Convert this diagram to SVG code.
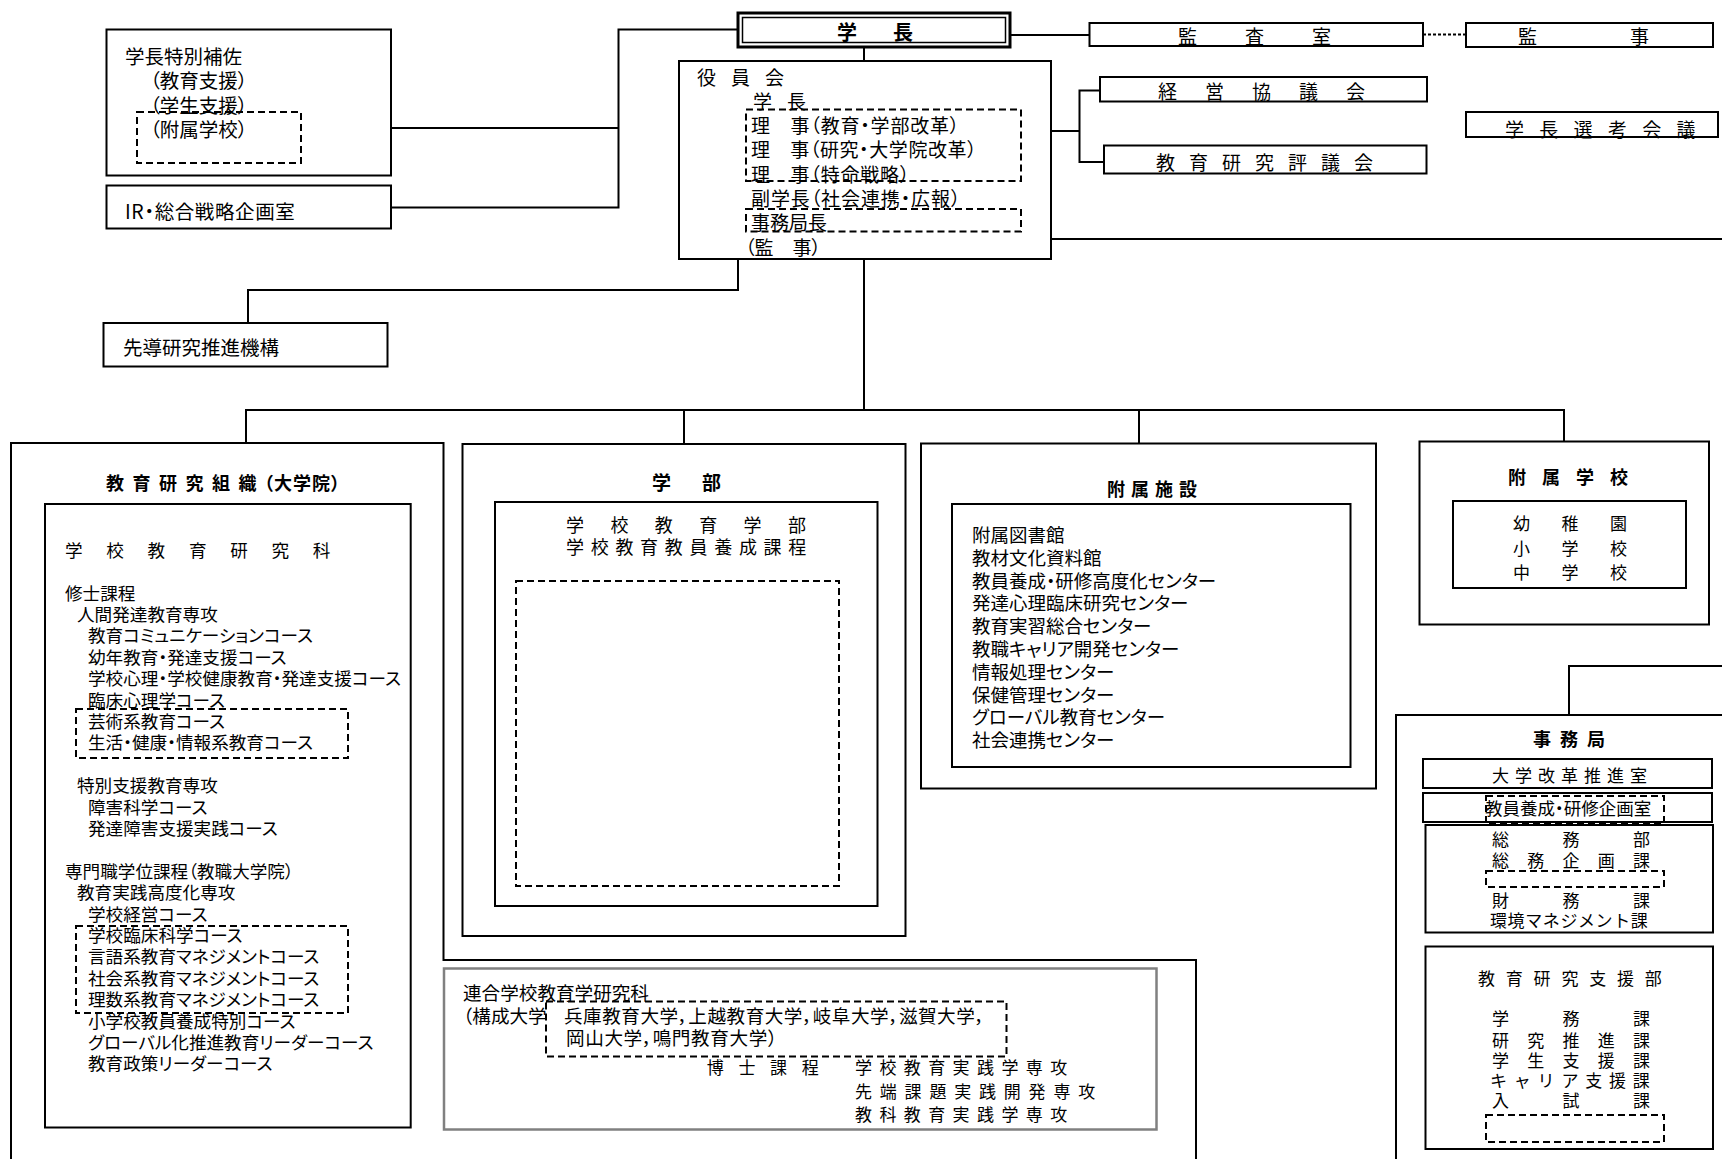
<svg xmlns="http://www.w3.org/2000/svg" width="1722" height="1159" viewBox="0 0 1722 1159">
<style>
.box{fill:none;stroke:#000;stroke-width:2}
.dash{fill:none;stroke:#000;stroke-width:2;stroke-dasharray:7 4}
.conn{fill:none;stroke:#000;stroke-width:2}
.dot{fill:none;stroke:#000;stroke-width:2;stroke-dasharray:3 2}
.gray{fill:none;stroke:#808080;stroke-width:2.5}
text{font-family:"Noto Sans CJK JP","Noto Sans CJK SC",sans-serif;fill:#000;dominant-baseline:central}
.p{font-feature-settings:"palt" 1}
.b{font-weight:bold}
.f195{font-size:19.5px}
.f19{font-size:19px}
.f18{font-size:18px}
.f176{font-size:17.6px}
.f185{font-size:18.5px}
.f17{font-size:17px}
</style>
<rect width="1722" height="1159" fill="#fff"/>

<g id="connectors">
<path class="conn" d="M738 29.5H618.5V207.5H391M391 128H618.5"/>
<path class="conn" d="M1010 35H1089.5"/>
<path class="dot" d="M1423 34.5H1466"/>
<path class="conn" d="M864 47V61"/>
<path class="conn" d="M1051 131H1079.5M1100 90.5H1079.5V162H1104"/>
<path class="conn" d="M1051 239H1722M1722 666H1569V715"/>
<path class="conn" d="M738 259V290H248V323"/>
<path class="conn" d="M864 259V410M246 443V410H1564V441.5M684 410V444M1139 410V443.5"/>
</g>

<g id="president-special-assistant">
<rect class="box" x="106.5" y="29.5" width="284.5" height="146"/>
<rect class="dash" x="137" y="112" width="164" height="51"/>
<text class="f195 p" x="125" y="55">学長特別補佐</text>
<text class="f195 p" x="150" y="79.5">（教育支援）</text>
<text class="f195 p" x="150" y="104">（学生支援）</text>
<text class="f195 p" x="150" y="128.5">（附属学校）</text>
</g>

<g id="ir-office">
<rect class="box" x="106.5" y="185.5" width="284.5" height="43"/>
<text class="f195 p" x="125" y="210" letter-spacing="0.6">IR・総合戦略企画室</text>
</g>

<g id="advanced-research">
<rect class="box" x="103.5" y="323" width="284" height="43.5"/>
<text class="f195 p" x="123" y="346">先導研究推進機構</text>
</g>

<g id="president">
<rect x="738" y="13" width="272" height="34" fill="none" stroke="#000" stroke-width="3"/>
<rect x="742.5" y="17.5" width="263" height="25" fill="none" stroke="#000" stroke-width="1.5"/>
<text class="b" x="837 893" y="31" font-size="20">学長</text>
</g>

<g id="board">
<rect class="box" x="679" y="61" width="372" height="198"/>
<rect class="dash" x="746" y="109.5" width="275" height="71.5"/>
<rect class="dash" x="746" y="209" width="275" height="22.5"/>
<text class="f19 p" x="697 731 765" y="76">役員会</text>
<text class="f19 p" x="753 787" y="100.3">学長</text>
<text class="f19 p" x="751" y="124.6" letter-spacing="0.8">理　事（教育・学部改革）</text>
<text class="f19 p" x="751" y="148.9" letter-spacing="0.6">理　事（研究・大学院改革）</text>
<text class="f19 p" x="751" y="173.2" letter-spacing="0.8">理　事（特命戦略）</text>
<text class="f19 p" x="751" y="197.5" letter-spacing="0.9">副学長（社会連携・広報）</text>
<text class="f19 p" x="751" y="221.8">事務局長</text>
<text class="f19 p" x="745" y="246">（監　事）</text>
</g>

<g id="audit-office">
<rect class="box" x="1089.5" y="23" width="333.5" height="23"/>
<text class="f19" x="1178 1245 1312" y="35">監査室</text>
</g>

<g id="auditor">
<rect class="box" x="1466" y="23" width="247" height="24"/>
<text class="f19" x="1518 1630" y="35">監事</text>
</g>

<g id="management-council">
<rect class="box" x="1100" y="77" width="327" height="24.5"/>
<text class="f19" x="1158 1205 1252 1299 1346" y="90.5">経営協議会</text>
</g>

<g id="education-research-council">
<rect class="box" x="1104" y="145.5" width="322.5" height="28"/>
<text class="f19" x="1156 1189 1222 1255 1288 1321 1354" y="161">教育研究評議会</text>
</g>

<g id="president-selection-council">
<rect class="box" x="1466" y="112" width="252" height="25"/>
<text class="f19" x="1505 1539.3 1573.6 1607.9 1642.2 1676.5" y="128">学長選考会議</text>
</g>

<g id="graduate-school">
<path class="box" d="M11 1159V443H443.5V960H1196V1159"/>
<rect class="box" x="45" y="504" width="365.7" height="623.5"/>
<text class="b f18 p" y="482"><tspan x="106 132.5 159 185.5 212 238.5">教育研究組織</tspan><tspan x="264" letter-spacing="1">（大学院）</tspan></text>
<text class="f176" x="65 106.3 147.6 188.9 230.2 271.5 312.8" y="549">学校教育研究科</text>
<rect class="dash" x="76" y="709" width="272" height="49"/>
<rect class="dash" x="76" y="926" width="272" height="87"/>
<g class="f176 p">
<text x="65" y="592">修士課程</text>
<text x="77" y="613.4">人間発達教育専攻</text>
<text x="88" y="634.8">教育コミュニケーションコース</text>
<text x="88" y="656.2">幼年教育・発達支援コース</text>
<text x="88" y="677.6">学校心理・学校健康教育・発達支援コース</text>
<text x="88" y="699">臨床心理学コース</text>
<text x="88" y="720.4">芸術系教育コース</text>
<text x="88" y="741.8">生活・健康・情報系教育コース</text>
<text x="77" y="784.6">特別支援教育専攻</text>
<text x="88" y="806">障害科学コース</text>
<text x="88" y="827.4">発達障害支援実践コース</text>
<text x="65" y="870.2">専門職学位課程（教職大学院）</text>
<text x="77" y="891.6">教育実践高度化専攻</text>
<text x="88" y="913">学校経営コース</text>
<text x="88" y="934.4">学校臨床科学コース</text>
<text x="88" y="955.8">言語系教育マネジメントコース</text>
<text x="88" y="977.2">社会系教育マネジメントコース</text>
<text x="88" y="998.6">理数系教育マネジメントコース</text>
<text x="88" y="1020">小学校教員養成特別コース</text>
<text x="88" y="1041.4">グローバル化推進教育リーダーコース</text>
<text x="88" y="1062.8">教育政策リーダーコース</text>
</g>
</g>

<g id="joint-graduate-school">
<rect class="gray" x="444" y="968.5" width="712.5" height="161"/>
<rect class="dash" x="546" y="1001.5" width="460.5" height="55"/>
<text class="p" font-size="18.6" x="463" y="991">連合学校教育学研究科</text>
<text class="p" font-size="18.6" y="1014"><tspan x="463">（構成大学</tspan><tspan x="564" letter-spacing="0.5">兵庫教育大学，上越教育大学，岐阜大学，滋賀大学，</tspan></text>
<text class="p" font-size="18.6" x="566" y="1036" letter-spacing="0.6">岡山大学，鳴門教育大学）</text>
<text class="f17" x="706.7 738.4 770.1 801.8" y="1066.5">博士課程</text>
<text class="f17" x="855" y="1066.5" letter-spacing="7.4">学校教育実践学専攻</text>
<text class="f17" x="855" y="1090" letter-spacing="7.8">先端課題実践開発専攻</text>
<text class="f17" x="855" y="1113" letter-spacing="7.4">教科教育実践学専攻</text>
</g>

<g id="faculty">
<rect class="box" x="462.5" y="444" width="443" height="492"/>
<rect class="box" x="495" y="502" width="382.5" height="404"/>
<rect class="dash" x="516" y="581" width="323" height="305"/>
<text class="b" font-size="19" x="652 702" y="481.5">学部</text>
<text class="f18" x="566 610.4 654.8 699.2 743.6 788" y="524">学校教育学部</text>
<text class="f18" x="566" y="546" letter-spacing="6.7">学校教育教員養成課程</text>
</g>

<g id="attached-facilities">
<rect class="box" x="921" y="443.5" width="455" height="345"/>
<rect class="box" x="952" y="504" width="398.5" height="263"/>
<text class="b f18" x="1107 1131 1155 1179" y="487.5">附属施設</text>
<g class="f185 p">
<text x="972" y="534">附属図書館</text>
<text x="972" y="556.8">教材文化資料館</text>
<text x="972" y="579.6">教員養成・研修高度化センター</text>
<text x="972" y="602.4">発達心理臨床研究センター</text>
<text x="972" y="625.2">教育実習総合センター</text>
<text x="972" y="648">教職キャリア開発センター</text>
<text x="972" y="670.8">情報処理センター</text>
<text x="972" y="693.6">保健管理センター</text>
<text x="972" y="716.4">グローバル教育センター</text>
<text x="972" y="739.2">社会連携センター</text>
</g>
</g>

<g id="attached-schools">
<rect class="box" x="1419.5" y="441.5" width="289.5" height="183"/>
<rect class="box" x="1453" y="501" width="233" height="87"/>
<text class="b f18" x="1508 1542 1576 1610" y="476">附属学校</text>
<text class="f17" x="1513 1561.5 1610" y="522.5">幼稚園</text>
<text class="f17" x="1513 1561.5 1610" y="547.5">小学校</text>
<text class="f17" x="1513 1561.5 1610" y="571">中学校</text>
</g>

<g id="secretariat">
<path class="box" d="M1722 715H1396V1159"/>
<text class="b f18" x="1533 1560 1587" y="738">事務局</text>
<rect class="box" x="1423" y="759" width="289" height="29"/>
<text class="f17" x="1492" y="774" letter-spacing="6">大学改革推進室</text>
<rect class="box" x="1423" y="793" width="289" height="29"/>
<rect class="dash" x="1486" y="796" width="178" height="28"/>
<text class="p" font-size="17.5" x="1485" y="807">教員養成・研修企画室</text>
<rect class="box" x="1425.5" y="825" width="287.5" height="107.5"/>
<rect class="dash" x="1486" y="871" width="178" height="16"/>
<text class="f17" x="1492 1562.5 1633" y="838.5">総務部</text>
<text class="f17" x="1492 1527.25 1562.5 1597.75 1633" y="859">総務企画課</text>
<text class="f17" x="1492 1562.5 1633" y="899">財務課</text>
<text class="f17" x="1490" y="919.5" letter-spacing="0.6">環境マネジメント課</text>
<rect class="box" x="1425.5" y="946.5" width="287.5" height="202.5"/>
<rect class="dash" x="1486" y="1115" width="178" height="27"/>
<text class="f17" x="1478 1505.8 1533.6 1561.4 1589.2 1617 1644.8" y="977">教育研究支援部</text>
<text class="f17" x="1492 1562.5 1633" y="1017.5">学務課</text>
<text class="f17" x="1492 1527.25 1562.5 1597.75 1633" y="1039">研究推進課</text>
<text class="f17" x="1492 1527.25 1562.5 1597.75 1633" y="1059">学生支援課</text>
<text class="f17" x="1490 1513.8 1537.6 1561.4 1585.2 1609 1632.8" y="1079">キャリア支援課</text>
<text class="f17" x="1492 1562.5 1633" y="1099">入試課</text>
</g>
</svg>
